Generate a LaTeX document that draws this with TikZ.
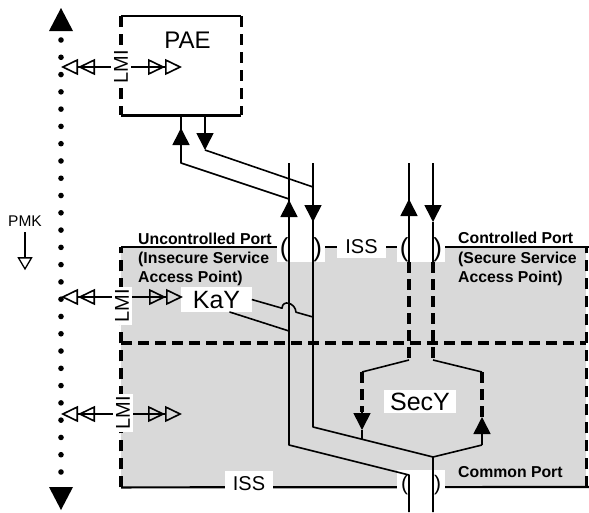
\documentclass[tikz,border=0pt]{standalone}
\usepackage{fontspec}
\setmainfont{Liberation Sans}
\usetikzlibrary{arrows.meta,calc}
\begin{document}
\begin{tikzpicture}[x=1pt,y=-1pt,line join=round,
 wire/.style={line width=1.6pt},
 edge/.style={line width=2.2pt},
 thickdash/.style={line width=3.2pt,dash pattern=on 11pt off 6pt},
 boxdash/.style={line width=3.2pt,dash pattern=on 11pt off 7pt},
 fa/.style={line width=1.6pt,-{Triangle[length=17pt,width=17pt]}},
 oa/.style={line width=1.6pt,-{Triangle[open,length=17pt,width=16pt,sep=0pt]Triangle[open,length=17pt,width=16pt,sep=0pt]}},
 pa/.style={line width=1.3pt,-{Triangle[open,length=13pt,width=15pt]}},
 dotline/.style={line width=5.6pt,line cap=round,dash pattern=on 0pt off 17.28pt},
 lmi/.style={fill=white,rotate=90,font=\fontsize{20}{24}\selectfont,inner xsep=2.5pt,inner ysep=3pt},
 lbl/.style={font=\bfseries\fontsize{15.8}{19}\selectfont,anchor=base west,inner sep=0pt},
 big/.style={font=\fontsize{25}{30}\selectfont},
 iss/.style={fill=white,font=\fontsize{20}{24}\selectfont,anchor=base,inner xsep=8pt,inner ysep=5pt},
 sap/.style={fill=white,anchor=base,inner xsep=3pt,inner ysep=0pt},
]
\useasboundingbox (0,0) rectangle (589,512);

% ---- dotted management line ----
\coordinate (dtop) at (61,40);
\coordinate (dbot) at (61,473);
\coordinate (ttip) at (61,8);
\coordinate (btip) at (61,510);
\coordinate (tl) at (49,31); \coordinate (tr) at (73,31);
\coordinate (bl) at (49,487); \coordinate (br) at (73,487);
\draw[dotline] (dtop) -- (dbot);
\fill (tl) -- (ttip) -- (tr) -- cycle;
\fill (bl) -- (btip) -- (br) -- cycle;

% ---- PMK ----
\node[font=\fontsize{15.5}{18}\selectfont,anchor=base west,inner sep=0pt] (pmk) at (8,226) {PMK};
\draw[pa] ([yshift=-6pt]pmk.south) -- ([yshift=-44pt]pmk.south);

% ---- PAE box ----
\node[minimum width=120pt,minimum height=99pt,inner sep=0pt,anchor=north west] (pae) at (121,16) {};
\draw[edge] (pae.north west) -- (pae.north east);
\draw[edge] (pae.south west) -- (pae.south east);
\draw[boxdash] (pae.north west) -- (pae.south west);
\draw[boxdash] (pae.north east) -- (pae.south east);
\node[font=\fontsize{24}{28}\selectfont,anchor=base] (paet) at (187.5,48) {PAE};

% ---- Port area ----
\node[minimum width=465pt,minimum height=240pt,inner sep=0pt,anchor=north west] (port) at (121,247) {};
\fill[gray!30] (port.north west) rectangle (port.south east);
\coordinate (topR) at (589,247);
\coordinate (botR) at (589,487);
\coordinate (midy) at (0,343);
\draw[edge] (port.north west) -- (topR);
\draw[edge] (port.south west) -- (botR);
\draw[boxdash] (port.south west) -- (port.north west);
\draw[boxdash] (port.south east) -- (port.north east);
\draw[thickdash] (port.west |- midy) -- (port.east |- midy);

% ---- white label boxes ----
\node[sap,font=\fontsize{26}{30}\selectfont] (sapU) at (301,256.5) {(\hspace{25pt})};
\node[sap,font=\fontsize{26}{30}\selectfont] (sapC) at (421,256.5) {(\hspace{25pt})};
\node[iss] (issT) at (361.5,253) {ISS};
\node[sap,font=\fontsize{21}{25}\selectfont,inner xsep=4pt,inner ysep=5pt] (sapB) at (421,490.5) {(\hspace{26pt})};
\node[iss] (issB) at (249,490) {ISS};
\node[lmi] (lmi1) at (121,67) {LMI};
\node[lmi] (lmi2) at (122,306) {LMI};
\node[lmi] (lmi3) at (123,413) {LMI};
\node[big,fill=white,anchor=base,inner xsep=11.5pt,inner ysep=3.5pt] (kay) at (216.5,308) {KaY};
\node[big,fill=white,anchor=base,inner xsep=6.5pt,inner ysep=3pt] (secy) at (420,410) {SecY};

% ---- LMI arrows ----
\coordinate (y1) at (0,67);
\coordinate (y2) at (0,297);
\coordinate (y3) at (0,414);
\coordinate (r1) at (182,67);
\coordinate (r2) at (183,297);
\coordinate (r3) at (182,414);
\draw[oa] (lmi1.north |- y1) -- (dtop |- y1);
\draw[oa] (lmi1.south |- y1) -- (r1);
\draw[oa] (lmi2.north |- y2) -- (dtop |- y2);
\draw[oa] (lmi2.south |- y2) -- (r2);
\draw[oa] (lmi3.north |- y3) -- (dtop |- y3);
\draw[oa] (lmi3.south |- y3) -- (r3);

% ---- signal paths ----
\coordinate (a1) at (181,163);
\coordinate (a1tip) at (181,128);
\coordinate (a2) at (205,150);
\coordinate (l1t) at (289,163);
\coordinate (l1j) at (289,199);
\coordinate (l1tip) at (289,200);
\coordinate (l1b) at (289,445);
\coordinate (l1d) at (409,475);
\coordinate (l1e) at (409,512);
\coordinate (l2t) at (313,163);
\coordinate (l2j) at (313,187);
\coordinate (l2tip) at (313,222);
\coordinate (l2b) at (313,427);
\coordinate (l2d) at (433,457);
\coordinate (l2e) at (433,512);
\coordinate (l3t) at (409,163);
\coordinate (l3tip) at (409,199);
\coordinate (l3m) at (409,262);
\coordinate (l3b) at (409,360);
\coordinate (s1) at (362,372);
\coordinate (s1a) at (362,412);
\coordinate (s1tip) at (362,430);
\coordinate (s1j) at (362,439.25);
\coordinate (l4t) at (433,163);
\coordinate (l4tip) at (433,222);
\coordinate (l4m) at (433,262);
\coordinate (l4b) at (433,360);
\coordinate (s2) at (482,372);
\coordinate (s2tip) at (482,417);
\coordinate (s2c) at (482,445);

\draw[wire] (pae.south -| a1) -- (a1) -- (l1j);
\draw[fa] (a1) -- (a1tip);
\draw[fa] (pae.south -| a2) -- (a2);
\draw[wire] (a2) -- (l2j);

\draw[wire] (l1t) -- (l1b) -- (l1d) -- (l1e);
\draw[fa] (l1b) -- (l1tip);
\draw[wire] (l2t) -- (l2b) -- (l2d) -- (l2e);
\draw[fa] (l2t) -- (l2tip);

\draw[wire] (l3t) -- (l3m);
\draw[fa] (l3m) -- (l3tip);
\draw[thickdash] (l3m) -- (l3b);
\draw[wire] (l3b) -- (s1);
\draw[thickdash] (s1) -- (s1a);
\draw[fa] (s1a) -- (s1tip);
\draw[wire] (s1tip) -- (s1j);

\draw[fa] (l4t) -- (l4tip);
\draw[wire] (l4tip) -- (l4m);
\draw[thickdash] (l4m) -- (l4b);
\draw[wire] (l4b) -- (s2);
\draw[thickdash] (s2) -- (s2tip);
\draw[fa] (s2c) -- (s2tip);
\draw[wire] (s2c) -- (l2d);

% ---- KaY links ----
\coordinate (h1) at (282,308.2);
\coordinate (h2) at (296,312.2);
\coordinate (k1e) at (313,317);
\coordinate (k2e) at (289,331);
\draw[wire] (kay.east) -- (h1) .. controls (282.5,299) and (295.5,303) .. (h2) -- (k1e);
\draw[wire] ([xshift=13pt]kay.south) -- (k2e);

% ---- bold labels ----
\node[lbl] (uc1) at (138,244) {Uncontrolled Port};
\node[lbl] (uc2) at (138,263) {(Insecure Service};
\node[lbl] (uc3) at (138,282) {Access Point)};
\node[lbl] (c1) at (458,243) {Controlled Port};
\node[lbl] (c2) at (458,263) {(Secure Service};
\node[lbl] (c3) at (458,282) {Access Point)};
\node[lbl] (cp) at (458,477) {Common Port};
\end{tikzpicture}
\end{document}
